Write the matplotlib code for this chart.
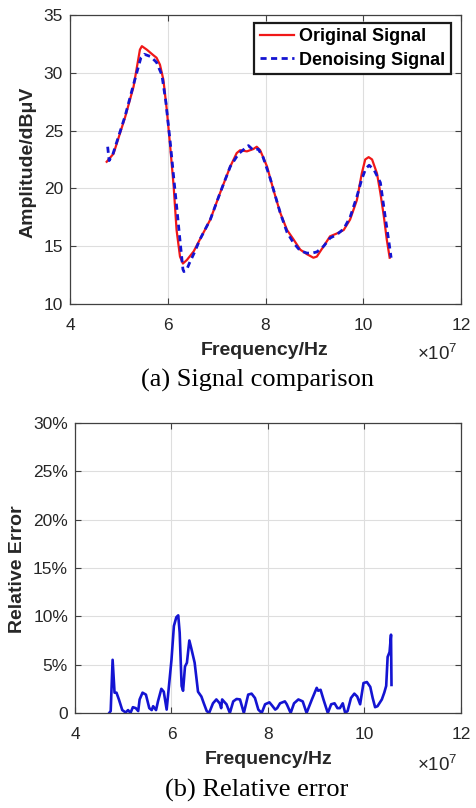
import matplotlib
matplotlib.use("Agg")
import matplotlib.pyplot as plt
from matplotlib.ticker import FixedLocator

# frequency in units of 1e7 Hz
orig_freq = [4.75, 4.89, 5.13, 5.30, 5.43, 5.47, 5.57, 5.71, 5.77, 5.84, 5.91, 5.98,
             6.05, 6.12, 6.18, 6.25, 6.31, 6.39, 6.53, 6.66, 6.87, 7.07, 7.28, 7.41,
             7.48, 7.62, 7.75, 7.82, 7.89, 8.03, 8.16, 8.30, 8.44, 8.57, 8.71, 8.85,
             8.98, 9.05, 9.19, 9.32, 9.46, 9.60, 9.73, 9.87, 9.97, 10.04, 10.11, 10.18,
             10.28, 10.35, 10.42, 10.48, 10.54]
orig_amp = [22.3, 23.0, 26.2, 28.8, 32.0, 32.3, 32.0, 31.5, 31.3, 30.7, 29.4, 26.8,
            23.6, 20.2, 16.4, 14.1, 13.5, 13.8, 14.55, 15.6, 17.3, 19.6, 21.9, 23.05,
            23.3, 23.2, 23.4, 23.6, 23.3, 21.9, 19.9, 17.9, 16.4, 15.6, 14.7, 14.3,
            14.0, 14.1, 15.0, 15.85, 16.1, 16.4, 17.3, 19.0, 21.3, 22.5, 22.7, 22.5,
            21.3, 19.6, 17.6, 15.6, 14.0]

den_freq = [4.77, 4.80, 4.88, 5.13, 5.30, 5.45, 5.52, 5.65, 5.77, 5.88, 5.96, 6.05,
            6.12, 6.18, 6.25, 6.31, 6.33, 6.39, 6.45, 6.55, 6.66, 6.87, 7.07, 7.28,
            7.45, 7.65, 7.75, 7.85, 7.95, 8.10, 8.30, 8.44, 8.57, 8.71, 8.85, 8.95,
            9.05, 9.19, 9.32, 9.46, 9.60, 9.73, 9.87, 9.97, 10.05, 10.12, 10.22, 10.35,
            10.45, 10.52, 10.57]
den_amp = [23.6, 22.4, 23.0, 26.3, 29.0, 31.3, 31.6, 31.4, 30.9, 29.8, 27.5, 24.0,
           21.0, 18.5, 15.5, 13.0, 12.8, 13.0, 13.6, 14.5, 15.6, 17.3, 19.6, 21.9,
           23.0, 23.7, 23.3, 23.4, 22.7, 20.8, 17.9, 16.2, 15.3, 14.6, 14.4, 14.4,
           14.5, 15.0, 15.7, 16.0, 16.5, 17.5, 19.3, 20.8, 21.7, 22.0, 21.6, 20.5,
           17.5, 15.5, 14.0]

err_freq = [4.71, 4.74, 4.78, 4.82, 4.86, 4.91, 4.98, 5.05, 5.10, 5.15, 5.20, 5.26,
            5.31, 5.34, 5.40, 5.47, 5.54, 5.59, 5.62, 5.68, 5.72, 5.79, 5.84, 5.90,
            5.94, 6.00, 6.05, 6.10, 6.14, 6.17, 6.21, 6.24, 6.28, 6.32, 6.37, 6.41,
            6.48, 6.55, 6.62, 6.67, 6.73, 6.78, 6.86, 6.93, 7.00, 7.03, 7.05, 7.14,
            7.21, 7.28, 7.35, 7.42, 7.50, 7.59, 7.66, 7.73, 7.80, 7.87, 7.94, 8.03,
            8.08, 8.15, 8.19, 8.25, 8.35, 8.39, 8.47, 8.54, 8.63, 8.72, 8.80, 8.91,
            9.01, 9.04, 9.09, 9.15, 9.24, 9.31, 9.38, 9.44, 9.49, 9.55, 9.60, 9.65,
            9.72, 9.79, 9.85, 9.91, 9.98, 10.05, 10.12, 10.17, 10.22, 10.27, 10.36,
            10.41, 10.45, 10.48, 10.52, 10.55, 10.56]
err_pct = [0.0, 0.2, 5.5, 2.1, 2.1, 1.4, 0.3, 0.05, 0.3, 0.0, 0.6, 0.5,
           0.2, 1.4, 2.1, 1.9, 0.5, 0.3, 0.7, 0.3, 1.2, 2.5, 2.2, 0.35,
           2.4, 5.5, 9.0, 9.9, 10.1, 8.3, 2.8, 2.3, 4.8, 5.2, 7.5, 6.7,
           5.2, 2.2, 1.7, 1.0, 0.2, 0.0, 1.0, 1.4, 1.0, 0.5, 1.4, 0.9,
           0.0, 1.2, 1.45, 1.4, 0.0, 1.9, 2.0, 1.55, 0.35, 0.0, 0.9, 1.1,
           0.8, 0.35, 0.5, 1.0, 1.2, 0.9, 0.0, 1.0, 1.4, 1.2, 0.0, 1.4,
           2.6, 2.3, 2.4, 1.4, 0.0, 0.9, 1.0, 0.5, 0.5, 1.0, 0.0, 0.2,
           1.55, 2.0, 1.7, 0.9, 3.1, 3.2, 2.7, 1.55, 0.6, 0.7, 1.4,
           2.1, 2.8, 5.8, 6.3, 8.1, 2.9]

x_ticks = [4, 6, 8, 10, 12]
amp_ticks = [10, 15, 20, 25, 30, 35]
err_ticks = [0, 5, 10, 15, 20, 25, 30]
err_tick_labels = ["0", "5%", "10%", "15%", "20%", "25%", "30%"]

plt.rcParams["font.family"] = ["Liberation Sans", "DejaVu Sans"]
plt.rcParams["mathtext.fontset"] = "custom"
plt.rcParams["mathtext.rm"] = "Liberation Sans"

TXT = "#262626"
RED = "#f01818"
BLUE = "#1414d2"

fig = plt.figure(figsize=(4.77, 8.08), dpi=100)
ax1 = fig.add_axes([0.1468, 0.6238, 0.8197, 0.3577])
ax2 = fig.add_axes([0.1572, 0.1176, 0.8092, 0.3589])


def style(ax):
    ax.grid(True, color="#dedede", linewidth=0.8)
    ax.set_axisbelow(True)
    for s in ax.spines.values():
        s.set_color("#404040")
        s.set_linewidth(0.9)
    ax.tick_params(direction="in", length=4, width=0.8, color="#404040",
                   top=True, right=True, labelsize=12.5, labelcolor=TXT)
    ax.tick_params(axis="x", pad=10)
    ax.tick_params(axis="y", pad=5)


ax1.plot(orig_freq, orig_amp, color=RED, linewidth=1.6, label="Original Signal", zorder=3)
ax1.plot(den_freq, den_amp, color=BLUE, linewidth=2.0, linestyle=(0, (2.2, 1.6)),
         label="Denoising Signal", zorder=4)
ax1.set_xlim(4, 12)
ax1.set_ylim(10, 35)
ax1.xaxis.set_major_locator(FixedLocator(x_ticks))
ax1.yaxis.set_major_locator(FixedLocator(amp_ticks))
style(ax1)
leg = ax1.legend(loc="upper right", bbox_to_anchor=(0.974, 0.972), borderaxespad=0,
                 fancybox=False, framealpha=1, edgecolor="#1a1a1a",
                 prop={"weight": "bold", "size": 13}, handlelength=1.9,
                 handletextpad=0.3, borderpad=0.3, labelspacing=0.35)
leg.get_frame().set_linewidth(1.6)

ax2.plot(err_freq, err_pct, color=BLUE, linewidth=1.9)
ax2.set_xlim(4, 12)
ax2.set_ylim(0, 30)
ax2.xaxis.set_major_locator(FixedLocator(x_ticks))
ax2.set_yticks(err_ticks)
ax2.set_yticklabels(err_tick_labels)
style(ax2)

# axis labels, multiplier text and captions
fig.text(0.5556, 0.5668, "Frequency/Hz", ha="center", va="center",
         fontsize=14, fontweight="bold", color=TXT)
fig.text(0.0587, 0.7995, "Amplitude/dBμV", ha="center", va="center",
         rotation=90, fontsize=14, fontweight="bold", color=TXT)
fig.text(0.5633, 0.0606, "Frequency/Hz", ha="center", va="center",
         fontsize=14, fontweight="bold", color=TXT)
fig.text(0.0367, 0.2958, "Relative Error", ha="center", va="center",
         rotation=90, fontsize=14, fontweight="bold", color=TXT)
fig.text(0.874, 0.554, r"$\times10^{7}$", ha="left", va="baseline",
         fontsize=13.5, color=TXT)
fig.text(0.874, 0.046, r"$\times10^{7}$", ha="left", va="baseline",
         fontsize=13.5, color=TXT)
fig.text(0.539, 0.5297, "(a) Signal comparison", ha="center", va="center",
         fontsize=19, family="Liberation Serif", color="black")
fig.text(0.539, 0.0223, "(b) Relative error", ha="center", va="center",
         fontsize=19, family="Liberation Serif", color="black")

fig.savefig("out.png", dpi=100)
